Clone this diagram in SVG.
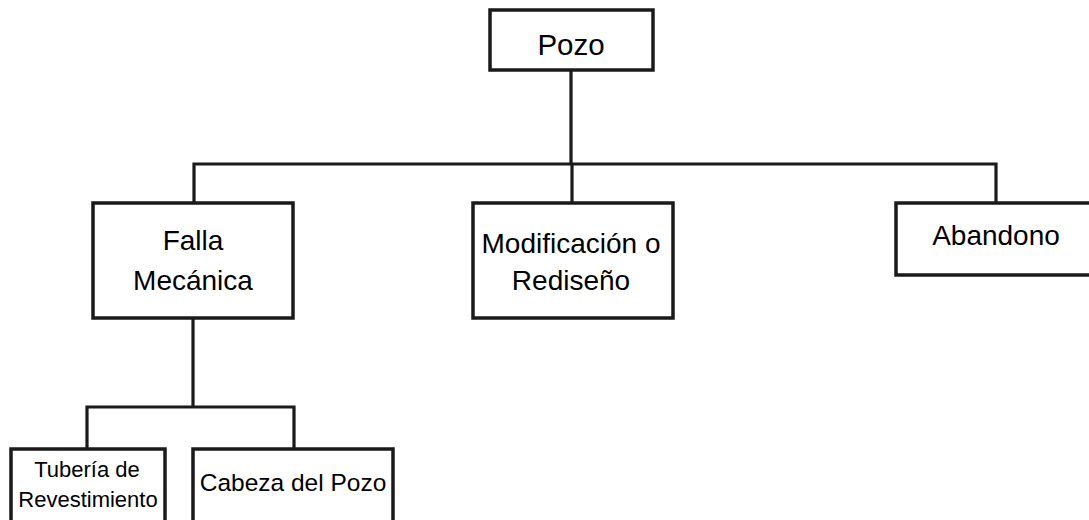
<svg xmlns="http://www.w3.org/2000/svg" width="1089" height="520" viewBox="0 0 1089 520">
<style>
.box{fill:#fff;stroke:#1a1a1a;stroke-width:3.5}
.ln{fill:none;stroke:#1a1a1a;stroke-width:3.2}
text{font-family:"Liberation Sans",Arial,sans-serif;fill:#000;text-anchor:middle}
.l{font-size:28px}
.p{font-size:29.5px}
.s{font-size:22px}
.m{font-size:24.5px}
</style>
<rect width="1089" height="520" fill="#fff"/>
<g id="connectors">
<path class="ln" d="M571 70V164M194 203V164H996V203M572 164V203"/>
<path class="ln" d="M193 318V407M87 449V407H294V449"/>
</g>
<g id="pozo"><rect class="box" x="490" y="10" width="163" height="60"/><text class="p" x="571" y="55">Pozo</text></g>
<g id="falla"><rect class="box" x="93" y="203" width="200" height="115"/><text class="l" x="193" y="250">Falla</text><text class="l" x="193" y="290">Mecánica</text></g>
<g id="modificacion"><rect class="box" x="473" y="203" width="200" height="115"/><text class="l" x="571" y="253">Modificación o</text><text class="l" x="571" y="290">Rediseño</text></g>
<g id="abandono"><rect class="box" x="896" y="203" width="200" height="72"/><text class="l" x="996" y="245">Abandono</text></g>
<g id="tuberia"><rect class="box" x="11" y="449" width="154" height="80"/><text class="s" x="87" y="477">Tubería de</text><text class="s" x="88" y="507">Revestimiento</text></g>
<g id="cabeza"><rect class="box" x="193" y="449" width="200" height="80"/><text class="m" x="293" y="491">Cabeza del Pozo</text></g>
</svg>
